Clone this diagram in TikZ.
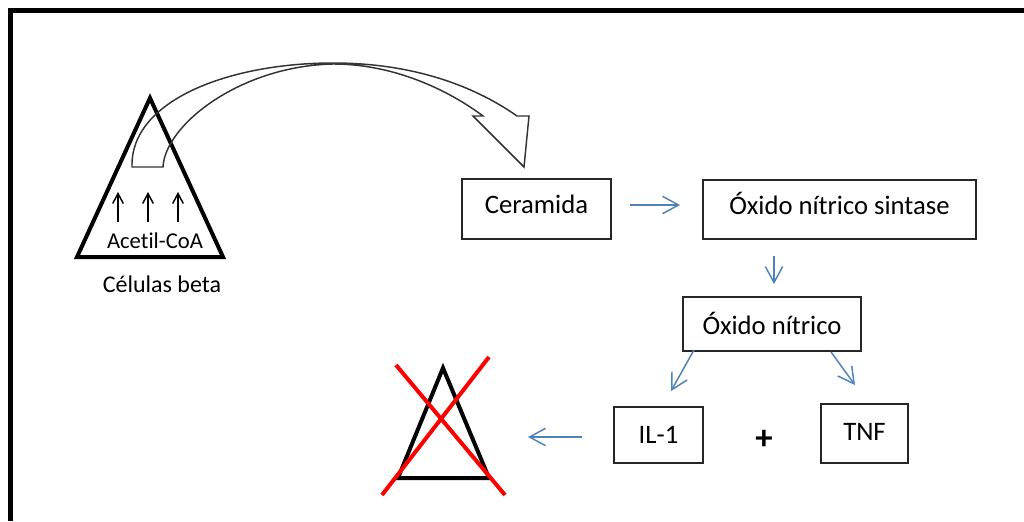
\documentclass[tikz,border=0pt]{standalone}
\usepackage{fontspec}
\setmainfont{Carlito}[Ligatures=NoCommon]
\usetikzlibrary{arrows.meta,calc}
\definecolor{flowblue}{HTML}{4F81BD}
\definecolor{crossred}{HTML}{FF0000}
\tikzset{
  box/.style={draw=black!85, line width=1.4pt, inner sep=0pt,
    font=\fontsize{20}{24}\selectfont, text depth=0pt, text height=#1},
  flow/.style={draw=flowblue, line width=1.1pt,
    -{Straight Barb[length=12pt,width=13pt]}},
  uparrow/.style={draw=black, line width=1.1pt,
    -{Straight Barb[length=7.5pt,width=8pt]}},
  cell/.style={line width=3pt, line join=miter},
  blockarrow/.style={draw=black!80, line width=1.1pt, line join=miter},
  cross/.style={draw=crossred, line width=3pt},
  small/.style={font=\fontsize{17}{20}\selectfont, inner sep=0pt, anchor=base},
}
\begin{document}
\begin{tikzpicture}[x=0.75pt, y=-0.75pt]
  \useasboundingbox (0,0) rectangle (1024,521);
  % outer frame (top and left edges)
  \draw[line width=3.75pt, line join=miter] (1024,10) -- (10,10) -- (10,521);

  % beta cell with rising acetyl-CoA
  \draw[cell] (150,98) -- (77,257) -- (223,257) -- cycle;
  \coordinate (u1a) at (118,222); \coordinate (u1b) at (118,192);
  \coordinate (u2a) at (148,222); \coordinate (u2b) at (148,192);
  \coordinate (u3a) at (178,222); \coordinate (u3b) at (178,192);
  \draw[uparrow] (u1a) -- (u1b);
  \draw[uparrow] (u2a) -- (u2b);
  \draw[uparrow] (u3a) -- (u3b);
  \node[small] (acetil) at (155,248) {Acetil-CoA};
  \node[small, font=\fontsize{18}{21}\selectfont] (celulas) at (162,292) {Células beta};

  % curved block arrow from the cell to ceramide
  \draw[blockarrow]
    (132,167) -- (163,167)
    .. controls (165,125) and (240,66) .. (333,64)
    .. controls (400,64) and (455,95) .. (483,116)
    -- (473,116) -- (524,167) -- (529,116) -- (517,116)
    .. controls (480,90) and (420,63) .. (333,63)
    .. controls (230,63) and (130,100) .. cycle;

  % pathway boxes
  \node[box=6pt, minimum width=111.75pt, minimum height=45pt] (cer) at (536.5,209) {Ceramida};
  \node[box=6.8pt, minimum width=204.75pt, minimum height=44.25pt] (sin) at (839.5,209.5) {Óxido nítrico sintase};
  \node[box=16pt, minimum width=133.5pt, minimum height=40.5pt] (no) at (772,324) {Óxido nítrico};
  \node[box=13pt, minimum width=66.75pt, minimum height=42pt] (il) at (658.5,435) {IL-1};
  \node[box=9.8pt, minimum width=65.25pt, minimum height=44.25pt] (tnf) at (864.5,433.5) {TNF};
  \node[font=\fontsize{26}{30}\selectfont\bfseries, inner sep=0pt] (plus) at (764,440) {+};

  % pathway arrows
  \draw[flow] ($(cer.east)+(18,-4)$) -- ($(sin.west)+(-22,-4.5)$);
  \draw[flow] ($(sin.south -| no.north)+(2,16)$) -- ($(no.north)+(2,-12)$);
  \draw[flow] ($(no.south)+(-78,-2)$) -- ($(il.north)+(12.5,-15)$);
  \draw[flow] ($(no.south)+(59,0)$) -- ($(tnf.north)+(-9.5,-18)$);

  % destroyed beta cell
  \draw[cell] (443,368) -- (398,478) -- (489,478) -- cycle;
  \coordinate (dead) at (528,437);
  \draw[flow] ($(il.west)+(-31,2)$) -- (dead);
  \draw[cross] (396,365) -- (505,495);
  \draw[cross] (489,357) -- (382,495);
\end{tikzpicture}
\end{document}
